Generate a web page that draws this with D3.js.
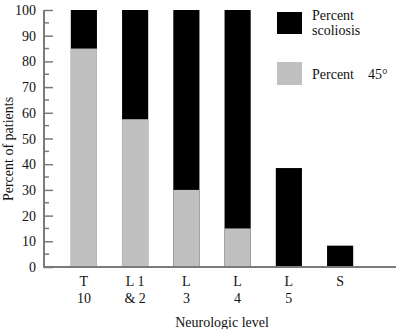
<!DOCTYPE html>
<html><head><meta charset="utf-8">
<script src="https://cdn.jsdelivr.net/npm/d3@7"></script>
<style>body{margin:0;background:#fff}svg{display:block}</style>
</head><body><svg id="c" width="396" height="329" font-family="'Liberation Serif', 'DejaVu Serif', 'Times New Roman', serif"></svg>
<script>
const levelsTop = ["T", "L 1", "L", "L", "L", "S"];
const levelsBottom = ["10", "& 2", "3", "4", "5", ""];
const categories = ["T10", "L1&2", "L3", "L4", "L5", "S"];
const percent45 = [85, 57.5, 30, 15, 0, 0];
const percentScoliosis = [100, 100, 100, 100, 38.5, 8.3];
const yTicks = [0, 10, 20, 30, 40, 50, 60, 70, 80, 90, 100];

const FONT = "Liberation Serif";
const svg = d3.select("#c");
const x0 = 44, yTop = 10, yBot = 267;
const x = d3.scaleBand().domain(categories).range([58, 366]).paddingInner(0.49).paddingOuter(0.25);
const y = d3.scaleLinear().domain([0, 100]).range([yBot, yTop]);

svg.append("g").selectAll("rect").data(categories).join("rect")
  .attr("x", d => x(d)).attr("width", x.bandwidth())
  .attr("y", (d, i) => y(percentScoliosis[i]))
  .attr("height", (d, i) => y(0) - y(percentScoliosis[i]))
  .attr("fill", "#000");
svg.append("g").selectAll("rect").data(categories).join("rect")
  .attr("x", d => x(d)).attr("width", x.bandwidth())
  .attr("y", (d, i) => y(percent45[i]))
  .attr("height", (d, i) => y(0) - y(percent45[i]))
  .attr("fill", "#c0c0c0");

const axisColor = "#7a7a7a";
const yAxis = svg.append("g").attr("transform", `translate(${x0},0)`)
  .call(d3.axisRight(y).tickValues(yTicks).tickSize(9).tickFormat(""));
yAxis.select(".domain").remove();
yAxis.selectAll("line").attr("stroke", axisColor).attr("stroke-width", 1.5);
const minor = d3.range(5, 100, 10);
svg.append("g").selectAll("line").data(minor).join("line")
  .attr("x1", x0).attr("x2", x0 + 5)
  .attr("y1", d => y(d)).attr("y2", d => y(d))
  .attr("stroke", axisColor).attr("stroke-width", 1.5);
svg.append("line").attr("x1", x0).attr("x2", x0).attr("y1", y(100)).attr("y2", y(0))
  .attr("stroke", axisColor).attr("stroke-width", 2);

function txt(sel) { return sel.attr("font-family", FONT).attr("font-size", 14).attr("fill", "#111"); }

txt(svg.append("g").selectAll("text").data(yTicks).join("text")
  .attr("x", x0 - 8).attr("y", d => y(d) + 5)
  .attr("text-anchor", "end").text(d => d));

svg.append("line").attr("x1", x0 - 1).attr("x2", 396).attr("y1", yBot).attr("y2", yBot)
  .attr("stroke", axisColor).attr("stroke-width", 2);

txt(svg.append("g").selectAll("text").data(categories).join("text")
  .attr("x", d => x(d) + x.bandwidth() / 2).attr("y", 286)
  .attr("text-anchor", "middle").text((d, i) => levelsTop[i]));
txt(svg.append("g").selectAll("text").data(categories).join("text")
  .attr("x", d => x(d) + x.bandwidth() / 2).attr("y", 303)
  .attr("text-anchor", "middle").text((d, i) => levelsBottom[i]));

txt(svg.append("text").attr("x", 222).attr("y", 327).attr("text-anchor", "middle").text("Neurologic level"));
txt(svg.append("text").attr("transform", "translate(13,149) rotate(-90)").attr("text-anchor", "middle").text("Percent of patients"));

svg.append("rect").attr("x", 277).attr("y", 12).attr("width", 25).attr("height", 22).attr("fill", "#000");
svg.append("rect").attr("x", 277).attr("y", 62).attr("width", 25).attr("height", 23).attr("fill", "#c0c0c0");
txt(svg.append("text").attr("x", 312).attr("y", 20).text("Percent"));
txt(svg.append("text").attr("x", 312).attr("y", 35).text("scoliosis"));
txt(svg.append("text").attr("x", 312).attr("y", 79).attr("xml:space", "preserve").text("Percent \u2002 45°"));
</script></body></html>
